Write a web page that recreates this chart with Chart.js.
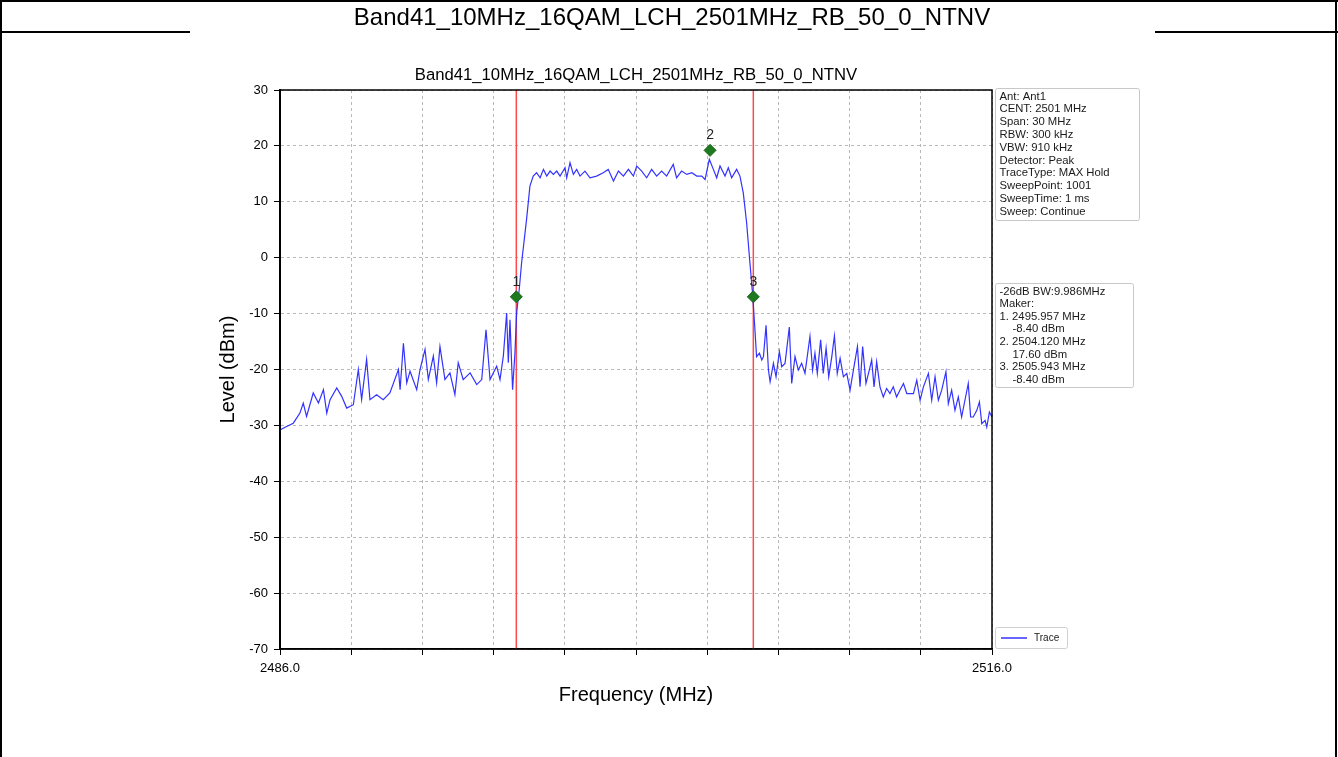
<!DOCTYPE html>
<html>
<head>
<meta charset="utf-8">
<title>Band41 spectrum</title>
<script src="https://cdn.jsdelivr.net/npm/chart.js@4.4.1/dist/chart.umd.min.js"></script>
<style>
  html, body { margin: 0; padding: 0; background: #fff; }
  canvas { display: block; }
</style>
</head>
<body>
<canvas id="espectroChart" width="1338" height="757"></canvas>
<script>
const tituloPagina = 'Band41_10MHz_16QAM_LCH_2501MHz_RB_50_0_NTNV';
const tituloGrafica = 'Band41_10MHz_16QAM_LCH_2501MHz_RB_50_0_NTNV';

// trace (MHz / dBm)
const freqMHz = [
  2486.00, 2486.28, 2486.56, 2486.84, 2486.98, 2487.12, 2487.40, 2487.62, 2487.83, 2487.97,
  2488.11, 2488.39, 2488.60, 2488.81, 2489.09, 2489.30, 2489.44, 2489.65, 2489.79, 2490.07,
  2490.35, 2490.63, 2490.99, 2491.06, 2491.20, 2491.34, 2491.48, 2491.76, 2491.90, 2492.11,
  2492.25, 2492.46, 2492.60, 2492.74, 2492.95, 2493.16, 2493.37, 2493.51, 2493.72, 2494.01,
  2494.29, 2494.50, 2494.68, 2494.85, 2495.13, 2495.27, 2495.41, 2495.55, 2495.62, 2495.69,
  2495.80, 2495.90, 2495.97,
  2496.08, 2496.18, 2496.39, 2496.53, 2496.67, 2496.81, 2496.96, 2497.10, 2497.24, 2497.38,
  2497.52, 2497.66, 2497.80, 2498.01, 2498.08, 2498.22, 2498.36, 2498.50, 2498.64, 2498.85,
  2499.06, 2499.34, 2499.62, 2499.83, 2500.05, 2500.26, 2500.47, 2500.68, 2500.89, 2501.03,
  2501.24, 2501.45, 2501.66, 2501.87, 2502.08, 2502.29, 2502.57, 2502.71, 2502.92, 2503.14,
  2503.35, 2503.56, 2503.77, 2503.91, 2504.09, 2504.26, 2504.40, 2504.54, 2504.75, 2504.89,
  2505.03, 2505.24, 2505.38, 2505.52, 2505.66, 2505.80, 2505.92, 2506.01,
  2506.08, 2506.20, 2506.30, 2506.37, 2506.48, 2506.58, 2506.65, 2506.79, 2506.90, 2507.04,
  2507.14, 2507.28, 2507.46, 2507.56, 2507.70, 2507.84, 2507.98, 2508.12, 2508.33, 2508.44,
  2508.54, 2508.64, 2508.78, 2508.89, 2509.01, 2509.12, 2509.25, 2509.36, 2509.48, 2509.60,
  2509.74, 2509.88, 2510.02, 2510.16, 2510.33, 2510.44, 2510.55, 2510.69, 2510.83, 2510.93,
  2511.03, 2511.14, 2511.28, 2511.42, 2511.56, 2511.70, 2511.84, 2511.98, 2512.12, 2512.27,
  2512.41, 2512.55, 2512.69, 2512.83, 2512.97, 2513.11, 2513.32, 2513.46, 2513.60, 2513.74,
  2513.88, 2514.06, 2514.16, 2514.30, 2514.44, 2514.58, 2514.72, 2514.86, 2515.00, 2515.10,
  2515.21, 2515.36, 2515.47, 2515.57, 2515.71, 2515.78, 2515.89, 2516.00
];
const levelDbm = [
  -30.8, -30.2, -29.6, -27.8, -26.0, -28.4, -24.2, -26.0, -23.6, -27.8,
  -25.4, -23.3, -24.8, -26.9, -26.3, -20.0, -25.4, -18.2, -25.4, -24.5,
  -25.4, -24.2, -20.0, -23.6, -15.3, -22.4, -20.3, -23.6, -20.0, -16.4,
  -21.8, -17.6, -22.4, -15.9, -21.8, -20.6, -24.5, -18.8, -21.8, -20.6,
  -22.7, -21.8, -12.9, -21.8, -19.4, -21.8, -17.6, -9.9, -18.8, -11.1,
  -23.6, -17.0, -9.9,
  -5.7, -0.9, 6.9, 12.8, 14.6, 15.2, 14.3, 15.8, 14.6, 15.5,
  14.9, 15.5, 14.6, 16.1, 14.3, 17.0, 14.9, 15.8, 14.6, 15.5,
  14.3, 14.6, 15.2, 15.8, 13.7, 15.5, 14.6, 15.8, 14.6, 16.4,
  15.5, 14.3, 15.8, 14.6, 15.5, 14.6, 16.7, 14.3, 15.5, 14.9,
  15.2, 14.6, 14.6, 14.0, 17.6, 15.8, 14.3, 16.4, 14.6, 16.1,
  14.3, 15.8, 14.6, 11.6, 6.3, -0.9, -6.9, -12.8,
  -17.7, -17.1, -18.3, -17.7, -12.1, -20.1, -22.2, -18.9, -21.3, -16.8,
  -19.5, -18.9, -12.4, -22.5, -17.7, -20.1, -18.9, -20.7, -14.1, -20.1,
  -17.1, -20.7, -14.7, -20.7, -16.2, -21.3, -17.7, -14.0, -20.7, -18.0,
  -21.3, -20.7, -23.7, -20.1, -15.9, -23.1, -15.9, -22.5, -20.1, -18.3,
  -23.1, -18.6, -23.1, -24.9, -23.4, -24.3, -23.1, -24.9, -23.7, -22.5,
  -24.3, -24.3, -24.3, -21.9, -25.5, -23.1, -20.7, -25.5, -21.3, -25.5,
  -23.7, -20.4, -26.1, -23.7, -27.3, -24.9, -28.5, -25.5, -22.5, -28.5,
  -28.5, -27.3, -25.8, -29.7, -29.1, -30.3, -27.6, -28.5
];

const bordesBW = [2495.957, 2505.943];
const marcadorFreq = [2495.957, 2504.12, 2505.943];
const marcadorNivel = [-7.0, 19.2, -7.0];
const marcadorNombre = ['1', '2', '3'];

const xTicks = [2486, 2489, 2492, 2495, 2498, 2501, 2504, 2507, 2510, 2513, 2516];
const xTickLabels = ['2486.0', '', '', '', '', '', '', '', '', '', '2516.0'];
const yMin = -70;
const yMax = 30;

const ajustes = [
  'Ant: Ant1', 'CENT: 2501 MHz', 'Span: 30 MHz', 'RBW: 300 kHz', 'VBW: 910 kHz',
  'Detector: Peak', 'TraceType: MAX Hold', 'SweepPoint: 1001', 'SweepTime: 1 ms', 'Sweep: Continue'
];
const lineasMarcador = [
  '-26dB BW:9.986MHz', 'Maker:', '1. 2495.957 MHz', '    -8.40 dBm',
  '2. 2504.120 MHz', '    17.60 dBm', '3. 2505.943 MHz', '    -8.40 dBm'
];

const fuente = '"Liberation Sans", Arial, sans-serif';
Chart.defaults.font.family = fuente;
Chart.defaults.color = '#000';

const rotulosPlugin = {
  id: 'rotulos',
  beforeDraw(chart) {
    const ctx = chart.ctx;
    ctx.save();
    ctx.fillStyle = '#fff';
    ctx.fillRect(0, 0, chart.width, chart.height);
    // marco de la pagina
    ctx.strokeStyle = '#000';
    ctx.lineWidth = 2;
    ctx.beginPath();
    ctx.moveTo(0, 1); ctx.lineTo(1338, 1);
    ctx.moveTo(1, 0); ctx.lineTo(1, 757);
    ctx.moveTo(1336, 0); ctx.lineTo(1336, 757);
    ctx.moveTo(0, 32); ctx.lineTo(190, 32);
    ctx.moveTo(1155, 32); ctx.lineTo(1338, 32);
    ctx.stroke();
    ctx.fillStyle = '#000';
    ctx.font = '24px ' + fuente;
    ctx.textAlign = 'center';
    ctx.textBaseline = 'middle';
    ctx.fillText(tituloPagina, 672, 18);
    ctx.restore();
  },
  afterDraw(chart) {
    const ctx = chart.ctx;
    const area = chart.chartArea;
    ctx.save();
    // caja del grafico
    ctx.strokeStyle = '#000';
    ctx.lineWidth = 1.5;
    ctx.strokeRect(area.left, area.top, area.right - area.left, area.bottom - area.top);

    ctx.fillStyle = '#000';
    ctx.font = '16.7px ' + fuente;
    ctx.textAlign = 'center';
    ctx.textBaseline = 'middle';
    ctx.fillText(tituloGrafica, (area.left + area.right) / 2, 75);

    // numeros de los marcadores
    const meta = chart.getDatasetMeta(3);
    ctx.font = '14px ' + fuente;
    ctx.fillStyle = '#222';
    meta.data.forEach((pt, i) => {
      ctx.fillText(marcadorNombre[i], pt.x, pt.y - 15);
    });

    // cajas de texto
    const caja = (x, y, w, h, lineas, paso) => {
      ctx.fillStyle = '#fff';
      ctx.strokeStyle = '#c8c8c8';
      ctx.lineWidth = 1;
      ctx.beginPath();
      ctx.roundRect(x, y, w, h, 2);
      ctx.fill();
      ctx.stroke();
      ctx.fillStyle = '#1a1a1a';
      ctx.font = '11.3px ' + fuente;
      ctx.textAlign = 'left';
      ctx.textBaseline = 'middle';
      lineas.forEach((t, i) => {
        const sangria = t.startsWith('    ') ? 13 : 0;
        ctx.fillText(t.trim(), x + 4 + sangria, y + 8 + i * paso);
      });
    };
    caja(995.5, 88.5, 144, 132, ajustes, 12.8);
    caja(995.5, 283.5, 138, 104, lineasMarcador, 12.6);

    // leyenda
    ctx.fillStyle = '#fff';
    ctx.strokeStyle = '#d0d0d0';
    ctx.beginPath();
    ctx.roundRect(995.5, 627.5, 72, 21, 2);
    ctx.fill();
    ctx.stroke();
    ctx.strokeStyle = chart.data.datasets[0].borderColor;
    ctx.lineWidth = 1.5;
    ctx.beginPath();
    ctx.moveTo(1001, 638); ctx.lineTo(1027, 638);
    ctx.stroke();
    ctx.fillStyle = '#1a1a1a';
    ctx.font = '10px ' + fuente;
    ctx.fillText(chart.data.datasets[0].label, 1034, 638);
    ctx.restore();
  }
};

const lineaVertical = f => [{ x: f, y: yMax }, { x: f, y: yMin }];

const ctx = document.getElementById('espectroChart').getContext('2d');
new Chart(ctx, {
  type: 'line',
  data: {
    datasets: [
      {
        label: 'Trace',
        data: freqMHz.map((f, i) => ({ x: f, y: levelDbm[i] })),
        borderColor: 'rgba(40, 40, 255, 0.95)',
        borderWidth: 1.2,
        pointRadius: 0,
        tension: 0,
        order: 2
      },
      {
        label: 'bw1',
        data: lineaVertical(bordesBW[0]),
        borderColor: '#ff4a4a',
        borderWidth: 1.5,
        pointRadius: 0,
        order: 3
      },
      {
        label: 'bw2',
        data: lineaVertical(bordesBW[1]),
        borderColor: '#ff4a4a',
        borderWidth: 1.5,
        pointRadius: 0,
        order: 3
      },
      {
        label: 'Markers',
        type: 'scatter',
        data: marcadorFreq.map((f, i) => ({ x: f, y: marcadorNivel[i] })),
        pointStyle: 'rectRot',
        pointRadius: 6,
        backgroundColor: '#1f7a1f',
        borderColor: '#176317',
        borderWidth: 1,
        order: 1
      }
    ]
  },
  options: {
    responsive: false,
    animation: false,
    devicePixelRatio: 1,
    layout: { padding: { left: 200, right: 346, top: 90, bottom: 30 } },
    plugins: {
      legend: { display: false },
      title: { display: false },
      tooltip: { enabled: false }
    },
    scales: {
      x: {
        type: 'linear',
        min: 2486,
        max: 2516,
        afterFit: s => { s.height = 78; },
        afterBuildTicks: s => { s.ticks = xTicks.map(v => ({ value: v })); },
        ticks: {
          autoSkip: false,
          maxRotation: 0,
          padding: 6,
          font: { size: 13 },
          callback: (v, i) => xTickLabels[i]
        },
        grid: { color: '#b8b8b8', tickColor: '#000', tickLength: 6, tickBorderDash: [] },
        border: { display: true, color: '#000', width: 1.5, dash: [3, 3] },
        title: {
          display: true,
          text: 'Frequency (MHz)',
          font: { size: 20 },
          padding: { top: 0, bottom: 20 }
        }
      },
      y: {
        min: yMin,
        max: yMax,
        afterFit: s => { s.width = 80; },
        ticks: { stepSize: 10, padding: 6, font: { size: 13 } },
        grid: { color: '#b8b8b8', tickColor: '#000', tickLength: 6, tickBorderDash: [] },
        border: { display: true, color: '#000', width: 2, dash: [3, 3] },
        title: {
          display: true,
          text: 'Level (dBm)',
          font: { size: 20 },
          padding: { top: 16, bottom: 0 }
        }
      }
    }
  },
  plugins: [rotulosPlugin]
});
</script>
</body>
</html>
